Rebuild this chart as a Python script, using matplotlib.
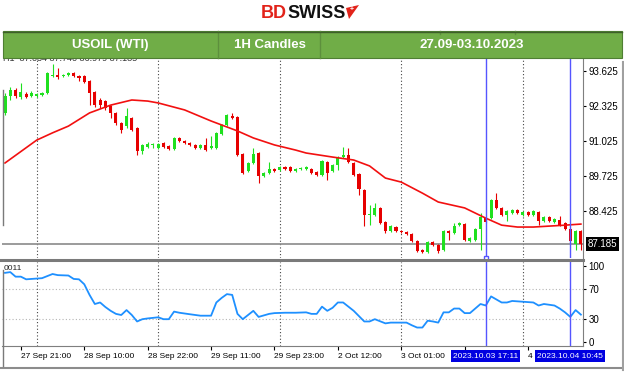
import numpy as np
import matplotlib
matplotlib.use('Agg')
import matplotlib.pyplot as plt
import matplotlib.transforms as mtrans
from matplotlib.patches import Rectangle, Polygon

plt.rcParams['font.family'] = ['Liberation Sans', 'DejaVu Sans']

# hourly candles USOIL (WTI)
opens = [92.07, 92.70, 92.92, 92.66, 92.77, 92.70, 92.70, 92.74, 92.81, 93.44,
         93.48, 93.44, 93.48, 93.55, 93.44, 93.44, 93.25, 92.85, 92.55, 92.51,
         92.33, 92.07, 91.69, 91.58, 91.88, 91.51, 90.65, 90.80, 90.88, 90.77,
         90.95, 90.84, 90.73, 91.14, 91.03, 90.95, 90.88, 90.77, 90.88, 90.77,
         90.77, 91.29, 91.62, 91.95, 91.92, 90.54, 89.91, 90.21, 90.58, 89.73,
         89.84, 89.99, 89.95, 90.06, 90.06, 89.91, 89.99, 89.99, 89.99, 89.87,
         89.76, 90.25, 89.91, 90.13, 90.43, 90.51, 90.21, 89.80, 89.21, 88.28,
         88.28, 88.54, 88.02, 87.68, 87.83, 87.68, 87.65, 87.57, 87.31, 86.98,
         86.90, 87.27, 87.16, 86.98, 87.68, 87.61, 87.90, 87.94, 87.31, 87.35,
         87.76, 88.16, 88.16, 88.83, 88.54, 88.28, 88.35, 88.46, 88.28, 88.39,
         88.28, 88.39, 88.05, 88.20, 88.02, 88.09, 87.98, 87.76, 87.20, 87.68]
closes = [92.70, 92.92, 92.70, 92.85, 92.66, 92.81, 92.77, 92.81, 93.55, 93.48,
          93.40, 93.48, 93.55, 93.44, 93.37, 93.22, 92.81, 92.36, 92.36, 92.25,
          92.07, 91.69, 91.43, 91.95, 91.43, 90.65, 90.88, 90.91, 90.91, 90.91,
          90.80, 90.73, 91.14, 91.03, 90.95, 90.88, 90.77, 90.88, 90.69, 90.84,
          91.32, 91.62, 91.99, 91.88, 90.51, 89.84, 90.21, 90.54, 89.73, 89.84,
          89.99, 89.91, 90.06, 89.99, 89.91, 89.99, 90.02, 90.06, 89.84, 89.76,
          90.28, 89.84, 90.13, 90.43, 90.51, 90.25, 89.76, 89.24, 88.28, 88.31,
          88.54, 87.98, 87.68, 87.87, 87.68, 87.65, 87.57, 87.31, 86.94, 86.90,
          87.27, 87.16, 86.94, 87.68, 87.61, 87.87, 87.98, 87.35, 87.42, 87.76,
          88.20, 88.02, 88.83, 88.54, 88.28, 88.43, 88.46, 88.35, 88.39, 88.28,
          88.43, 88.05, 88.20, 88.05, 88.13, 87.90, 87.76, 87.31, 87.68, 87.185]
highs = [92.81, 93.03, 92.99, 93.18, 92.85, 92.88, 92.81, 92.85, 93.59, 93.89,
         93.74, 93.52, 93.59, 93.59, 93.48, 93.48, 93.29, 92.88, 92.62, 92.55,
         92.36, 92.10, 91.73, 92.25, 91.92, 91.55, 90.91, 90.99, 90.95, 90.95,
         90.99, 90.88, 91.18, 91.18, 91.06, 90.99, 90.91, 90.91, 91.14, 91.21,
         91.36, 91.66, 92.03, 92.07, 91.95, 90.58, 90.25, 90.77, 90.62, 89.87,
         90.25, 90.02, 90.10, 90.10, 90.10, 90.02, 90.06, 90.10, 90.02, 89.91,
         90.32, 90.28, 90.17, 90.47, 90.80, 90.77, 90.25, 89.84, 89.24, 88.65,
         88.72, 88.57, 88.05, 87.90, 87.87, 87.72, 87.68, 87.61, 87.35, 87.01,
         87.31, 87.31, 87.20, 87.72, 87.72, 87.98, 88.02, 87.98, 87.46, 87.79,
         88.35, 88.20, 88.87, 89.09, 88.57, 88.46, 88.50, 88.50, 88.43, 88.43,
         88.46, 88.43, 88.24, 88.24, 88.16, 88.24, 88.02, 87.79, 87.72, 87.72]
lows = [91.99, 92.55, 92.62, 92.59, 92.62, 92.66, 92.66, 92.70, 92.77, 93.40,
        93.33, 93.40, 93.44, 93.40, 93.25, 93.18, 92.36, 92.29, 92.25, 92.18,
        91.88, 91.62, 91.32, 91.51, 91.40, 90.51, 90.54, 90.77, 90.77, 90.73,
        90.77, 90.69, 90.69, 90.99, 90.91, 90.84, 90.73, 90.73, 90.65, 90.73,
        90.73, 91.25, 91.58, 91.84, 90.47, 89.80, 89.87, 90.17, 89.47, 89.69,
        89.80, 89.87, 89.91, 89.95, 89.87, 89.87, 89.95, 89.95, 89.80, 89.73,
        89.73, 89.58, 89.87, 89.95, 90.40, 90.21, 89.73, 89.02, 87.87, 87.90,
        88.24, 87.94, 87.61, 87.65, 87.65, 87.61, 87.53, 87.27, 86.90, 86.87,
        86.87, 87.12, 86.87, 86.94, 87.35, 87.57, 87.87, 87.31, 87.27, 87.31,
        86.98, 87.98, 88.13, 88.50, 88.24, 88.05, 88.31, 88.31, 88.24, 88.24,
        88.24, 87.90, 88.02, 88.02, 87.98, 87.87, 87.72, 87.27, 86.98, 86.98]

# moving average (red line), read at some bars
ma_bar = [0, 6, 9, 12, 16, 20, 24, 27, 29, 34, 39, 44, 47, 51, 55, 57,
          62, 66, 69, 72, 75, 79, 82, 87, 91, 94, 97, 100, 106, 109]
ma_val = [90.21, 91.06, 91.33, 91.58, 92.07, 92.36, 92.55, 92.51, 92.44, 92.18, 91.77,
          91.40, 91.14, 90.88, 90.69, 90.58, 90.43, 90.32, 90.10, 89.65, 89.50,
          89.09, 88.76, 88.54, 88.16, 87.90, 87.83, 87.83, 87.90, 87.94]

# oscillator in lower panel
rsi_bar = [0, 1, 2, 3, 4, 5, 7, 9, 10, 12,
           13, 14, 15, 16, 17, 18, 19, 20, 21, 22,
           23, 24, 25, 26, 27, 29, 30, 31, 32, 33,
           35, 37, 39, 40, 41, 42, 43, 44, 45, 46,
           47, 48, 50, 51, 53, 55, 57, 58, 59, 60,
           61, 62, 63, 64, 66, 68, 69, 70, 72, 73,
           75, 76, 77, 78, 79, 80, 81, 82, 83, 84,
           85, 86, 87, 88, 90, 91, 92, 94, 95, 96,
           98, 100, 101, 102, 104, 105, 106, 107, 108, 109]
rsi_val = [91, 92, 86, 86, 82.5, 83, 84, 89.5, 88, 87.5,
           83, 82.5, 76, 62, 50, 52, 46, 41, 37, 35.5,
           42, 35.5, 27, 30, 31, 32.5, 30, 30, 40, 38.5,
           36.5, 34.6, 34.6, 52, 58, 63, 62, 37, 30, 35.5,
           41, 33, 37, 38, 38.5, 38.5, 39, 37, 37, 46.5,
           41, 45, 52, 52, 41, 27, 27, 30, 24.5, 25.5,
           25.5, 25.5, 22, 19, 19, 28, 27, 25.5, 39, 39,
           44, 44, 38, 38, 50, 48, 60, 52, 52, 54,
           53, 52, 48, 50, 48, 44, 39, 33, 42, 36]

price_levels = [88.425, 89.725, 91.025, 92.325, 93.625]
last_price = 87.185
rsi_levels = [0, 30, 70, 100]
grid_bars = [6, 29, 52, 75, 98]
marker_bars = [91, 107]
marker_labels = ['2023.10.03 17:11', '2023.10.04 10:45']
tick_bars = [3, 15, 27, 39, 51, 63, 75, 87, 99]
tick_labels = ['27 Sep 21:00', '28 Sep 10:00', '28 Sep 22:00', '29 Sep 11:00',
               '29 Sep 23:00', '2 Oct 12:00', '3 Oct 01:00', '', '4']

W, H = 624, 372
fig = plt.figure(figsize=(W / 100, H / 100), dpi=100)


def box(l, t, r, b):
    return [l / W, 1 - b / H, (r - l) / W, (b - t) / H]


ax = fig.add_axes(box(2, 58, 583, 258))
axr = fig.add_axes(box(2, 262, 583, 346))

# candles
o = np.array(opens); c = np.array(closes)
idx = np.arange(len(o))
cols = np.where(c >= o, '#1fe01f', '#e60000')
ax.vlines(idx, lows, highs, colors=cols, lw=0.8, zorder=3)
ax.bar(idx, np.maximum(np.abs(c - o), 0.03), bottom=np.minimum(o, c),
       width=0.58, color=cols, lw=0, zorder=3)
ax.plot(ma_bar, ma_val, color='#f21010', lw=1.2, zorder=4)
ax.axhline(last_price, color='#8a8a8a', lw=1.2, zorder=2)

for a in (ax, axr):
    a.set_xlim(-0.57, 109.4)
    for b in grid_bars:
        a.axvline(b, color='#444444', ls=(0, (1, 2)), lw=0.8, zorder=1)
    for b in marker_bars:
        a.axvline(b, color='#5555ff', lw=1, zorder=5)
    for s in ('left', 'top', 'bottom'):
        a.spines[s].set_visible(False)
    a.spines['right'].set_color('#7f7f7f')
    a.yaxis.tick_right()
    a.tick_params(axis='y', labelsize=7, length=2.5, pad=1.5, colors='black')

ax.set_ylim(86.68, 94.11)
ax.set_yticks(price_levels)
ax.set_yticklabels(['%.3f' % v for v in price_levels])
ax.set_xticks([])
ax.annotate('%.3f' % last_price, xy=(1, last_price), xycoords=ax.get_yaxis_transform(),
            xytext=(3.5, 0), textcoords='offset points', ha='left', va='center',
            fontsize=7, color='white',
            bbox=dict(boxstyle='square,pad=0.2', fc='black', ec='none'), zorder=6)
ax.text(0.002, 1.0, 'H1  87.034 87.740 86.979 87.185', transform=ax.transAxes,
        fontsize=6.5, color='#333333', va='center', ha='left', clip_on=False)
ax.plot([91], [86.68], marker='s', ms=3, mfc='white', mec='#5555ff', clip_on=False, zorder=6)

# lower panel
axr.plot(rsi_bar, rsi_val, color='#1e90ff', lw=1.3, zorder=4)
axr.set_ylim(-5.3, 105.3)
axr.set_yticks(rsi_levels)
for v in (30, 70):
    axr.axhline(v, color='#b5b5b5', ls=(0, (1, 2)), lw=0.8, zorder=1)
axr.spines['bottom'].set_visible(True)
axr.spines['bottom'].set_color('#7f7f7f')
axr.set_xticks(tick_bars)
axr.set_xticklabels(tick_labels, ha='left', fontsize=6)
axr.tick_params(axis='x', length=3, pad=2, colors='black')
axr.text(0.002, 0.9, '0011', transform=axr.transAxes, fontsize=6, color='#222222')
trans = mtrans.blended_transform_factory(axr.transData, axr.transAxes)
for b, lab in zip(marker_bars, marker_labels):
    axr.text(b, -0.12, lab, transform=trans, ha='center', va='center', fontsize=6,
             color='white', clip_on=False, zorder=7,
             bbox=dict(boxstyle='square,pad=0.25', fc='#0000e0', ec='none'))

# overlay for header, logo and frame
ov = fig.add_axes([0, 0, 1, 1], zorder=5)
ov.set_xlim(0, W)
ov.set_ylim(H, 0)
ov.axis('off')
ov.patch.set_alpha(0)

ov.add_patch(Rectangle((3, 31), 619, 27, fc='#70ad47', ec='#4f7f33', lw=0.8))
for xd in (218, 320):
    ov.plot([xd, xd], [31, 58], color='#5d8f3d', lw=1)
for xd in (440, 515):
    ov.plot([xd, xd], [31, 34], color='#5d8f3d', lw=1)
ov.plot([3, 622], [31.5, 31.5], color='#3e5f2a', lw=1)
for xc, txt in ((110, 'USOIL (WTI)'), (270, '1H Candles'), (472, '27.09-03.10.2023')):
    ov.text(xc, 45, txt, ha='center', va='center', color='white', fontsize=9.5,
            fontweight='bold')

ov.text(287, 13, 'BD', ha='right', va='center', color='#e2231a', fontsize=13,
        fontweight='bold')
ov.text(287, 13, 'SWISS', ha='left', va='center', color='#111111', fontsize=13,
        fontweight='bold')
ov.add_patch(Polygon([(346, 8), (359, 5), (349, 19)], closed=True, fc='#e2231a', ec='none'))
ov.text(351.5, 10, '+', ha='center', va='center', color='white', fontsize=5, fontweight='bold')

ov.plot([0, 583], [259.5, 259.5], color='#7a7a7a', lw=2.2)
ov.plot([0, W], [368, 368], color='#8c8c8c', lw=1.5)
ov.plot([2.5, 2.5], [90, 225], color='#7a7a7a', lw=1)
ov.plot([2.5, 2.5], [270, 366], color='#7a7a7a', lw=1)
ov.plot([622.5, 622.5], [62, 370], color='#a0a0a0', lw=1.5)

fig.savefig('out.png', dpi=100)
